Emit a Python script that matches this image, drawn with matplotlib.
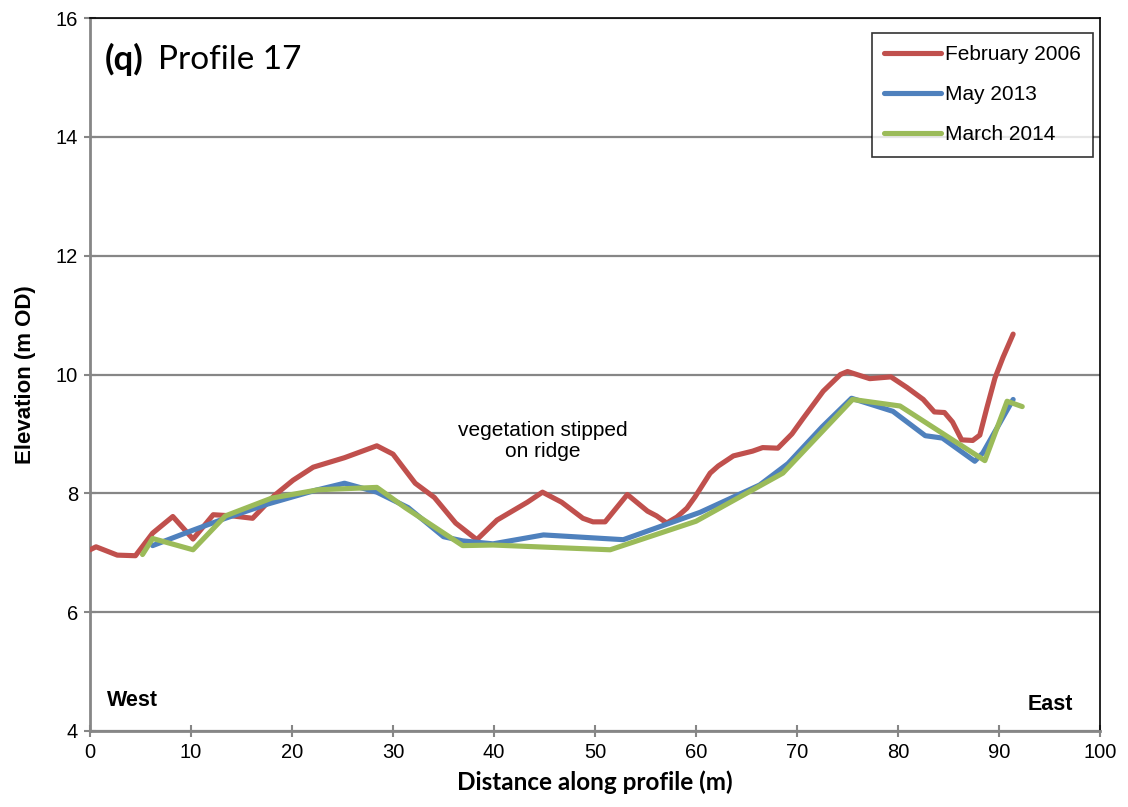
import matplotlib
matplotlib.use("Agg")
import matplotlib.pyplot as plt

# --- data ---
feb2006_x = [0, 0.6, 2.7, 4.5, 6.2, 8.2, 10.2, 12.2, 14.1, 16.1, 18.3, 20.1, 22.1, 25.2, 28.4,
             30.0, 32.2, 34.1, 36.2, 38.3, 40.3, 43.3, 44.8, 46.7, 48.8, 49.8, 51.0, 53.2,
             55.2, 56.1, 57.1, 58.1, 59.1, 59.9, 61.4, 62.2, 63.7, 65.6, 66.6, 68.1, 69.5,
             70.6, 72.6, 74.3, 75.0, 77.2, 79.3, 80.9, 82.5, 83.6, 84.6, 85.4, 86.3, 87.4,
             88.1, 88.8, 89.6, 90.4, 91.4]
feb2006_y = [7.05, 7.1, 6.96, 6.95, 7.33, 7.61, 7.23, 7.64, 7.62, 7.58, 7.97, 8.22, 8.44, 8.6, 8.8,
             8.66, 8.17, 7.93, 7.5, 7.22, 7.55, 7.85, 8.02, 7.85, 7.58, 7.52, 7.52, 7.98,
             7.7, 7.62, 7.5, 7.6, 7.75, 7.94, 8.34, 8.46, 8.63, 8.71, 8.77, 8.76, 9.0,
             9.26, 9.72, 10.0, 10.05, 9.93, 9.96, 9.78, 9.58, 9.37, 9.36, 9.2, 8.9, 8.89,
             8.98, 9.44, 9.94, 10.29, 10.68]

may2013_x = [6.2, 10.2, 13.4, 17.6, 22.3, 25.2, 28.4, 31.5, 35.0, 36.9, 39.9, 44.9, 52.8,
             60.4, 66.3, 69.1, 72.5, 75.4, 79.5, 82.7, 84.4, 87.6, 88.4, 91.4]
may2013_y = [7.12, 7.38, 7.58, 7.82, 8.05, 8.17, 8.02, 7.76, 7.27, 7.2, 7.15, 7.3, 7.22,
             7.68, 8.14, 8.5, 9.12, 9.6, 9.38, 8.97, 8.93, 8.54, 8.68, 9.58]

mar2014_x = [5.2, 6.2, 10.2, 13.4, 18.0, 22.6, 28.4, 31.2, 36.9, 39.9, 51.5, 60.0, 68.6,
             75.5, 80.2, 88.6, 90.8, 92.3]
mar2014_y = [6.97, 7.24, 7.05, 7.62, 7.92, 8.06, 8.1, 7.76, 7.12, 7.13, 7.05, 7.53, 8.34,
             9.58, 9.47, 8.55, 9.55, 9.46]

series_labels = ["February 2006", "May 2013", "March 2014"]
colors = ["#C0504D", "#4F81BD", "#9BBB59"]

x_ticks = list(range(0, 101, 10))
y_ticks = list(range(4, 17, 2))

# --- figure ---
fig = plt.figure(figsize=(11.28, 8.07), dpi=100)
ax = fig.add_axes([90/1128, 76/807, 1010/1128, 713/807])

for xs, ys, lab, c in zip([feb2006_x, may2013_x, mar2014_x],
                          [feb2006_y, may2013_y, mar2014_y],
                          series_labels, colors):
    ax.plot(xs, ys, color=c, lw=3.7, label=lab, solid_capstyle="round",
            solid_joinstyle="round", zorder=3)

ax.set_xlim(0, 100)
ax.set_ylim(4, 16)
ax.set_xticks(x_ticks)
ax.set_yticks(y_ticks)
ax.grid(axis="y", color="#868686", lw=1.6, zorder=0)
ax.set_axisbelow(True)

for s in ["left", "bottom"]:
    ax.spines[s].set_color("#868686")
    ax.spines[s].set_linewidth(2)
for s in ["top", "right"]:
    ax.spines[s].set_color("black")
    ax.spines[s].set_linewidth(1.2)

ax.tick_params(axis="both", direction="inout", length=9, width=1.5, color="#868686",
               labelsize=14.5, pad=4)
for lbl in ax.get_xticklabels() + ax.get_yticklabels():
    lbl.set_fontfamily("Liberation Sans")

ax.set_xlabel("Distance along profile (m)", fontsize=17.5, fontweight="bold",
              fontfamily="Lato", labelpad=6)
ax.set_ylabel("Elevation (m OD)", fontsize=16, fontweight="bold",
              fontfamily="Liberation Sans", labelpad=14)

ax.text(1.5, 15.3, "(q)", fontsize=25, fontweight="bold", fontfamily="Lato",
        va="center", ha="left")
ax.text(6.7, 15.3, "Profile 17", fontsize=24, fontfamily="Lato",
        va="center", ha="left")

ax.text(44.8, 8.88, "vegetation stipped\non ridge", fontsize=15, fontfamily="Liberation Sans",
        ha="center", va="center", linespacing=1.12)
ax.text(1.7, 4.52, "West", fontsize=15.5, fontweight="bold", fontfamily="Liberation Sans",
        ha="left", va="center")
ax.text(97.3, 4.45, "East", fontsize=15.5, fontweight="bold", fontfamily="Liberation Sans",
        ha="right", va="center")

leg = ax.legend(loc="upper right", bbox_to_anchor=(0.993, 0.979),
                prop={"family": "Liberation Sans", "size": 15},
                frameon=True, fancybox=False, edgecolor="black",
                handlelength=2.75, handletextpad=0.15, labelspacing=1.0,
                borderpad=0.6, borderaxespad=0.0)
leg.get_frame().set_linewidth(1.2)

fig.savefig("out.png", dpi=100)
